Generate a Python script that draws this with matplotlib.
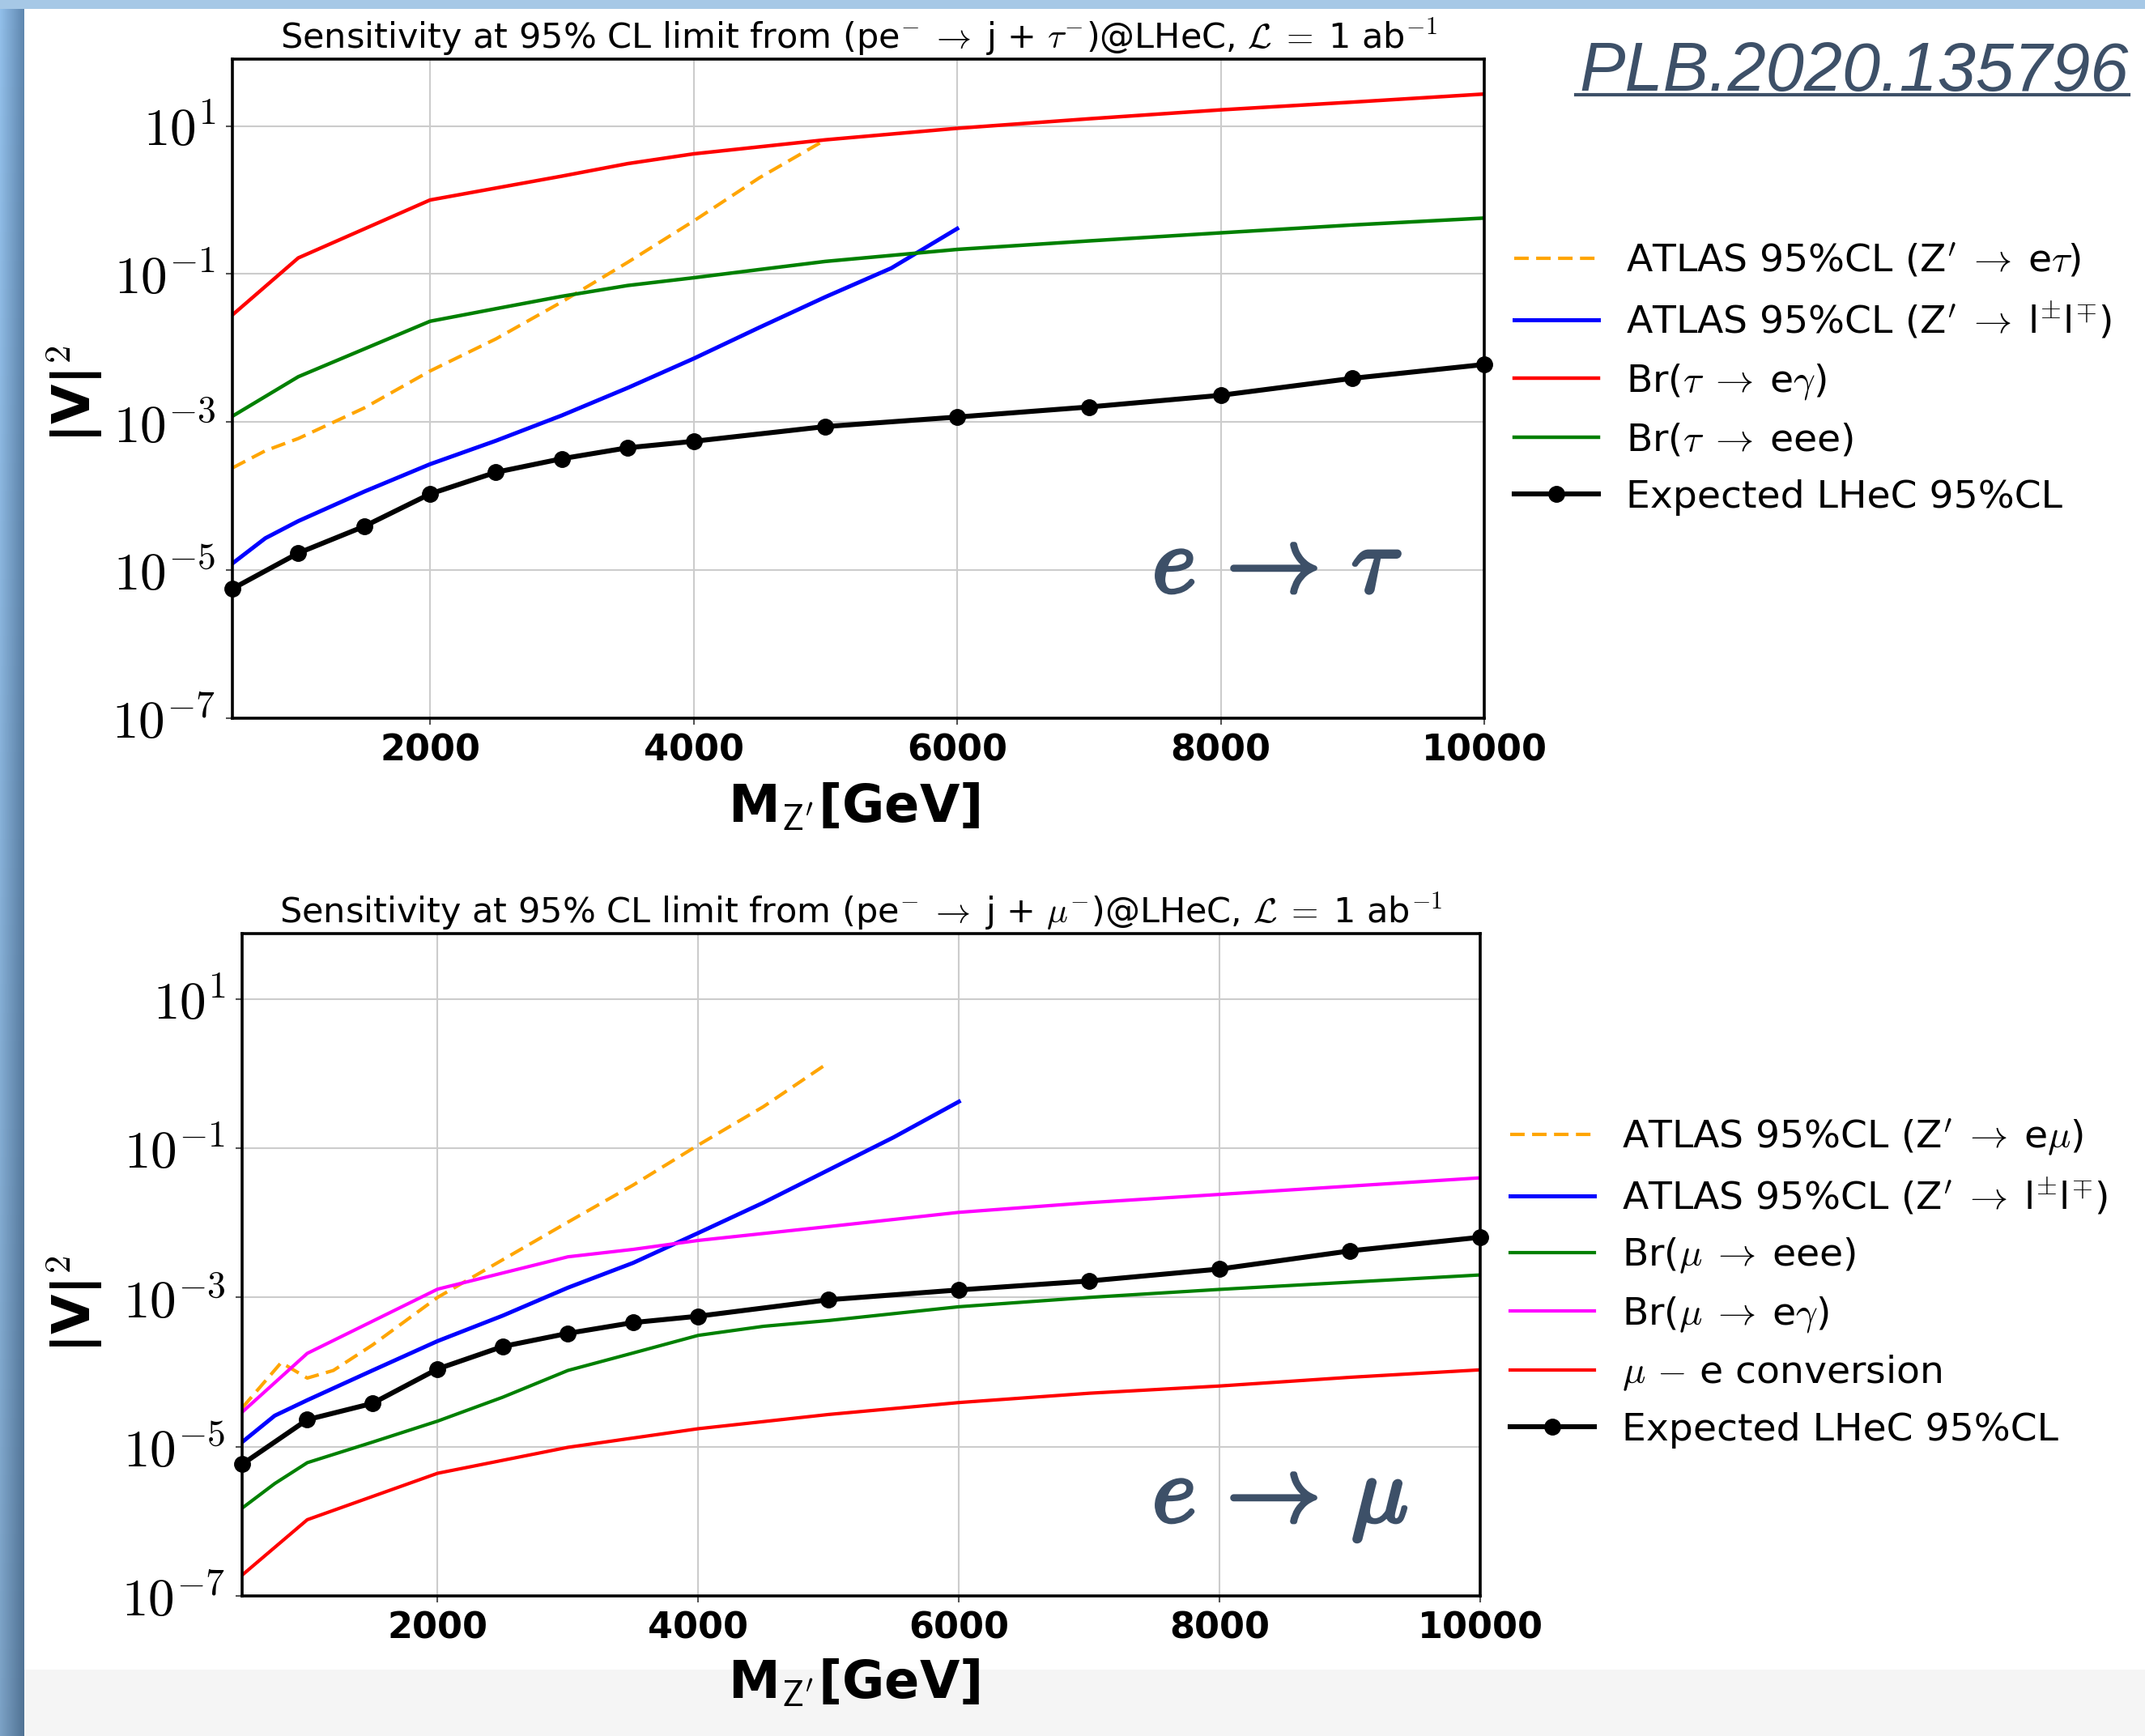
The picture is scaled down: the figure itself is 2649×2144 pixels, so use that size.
#!/usr/bin/env python3
"""
LFV Z' sensitivity at LHeC
--------------------------
Two log-scale panels (e->tau, e->mu) of |V|^2 versus M_Z',
drawn on a slide-like background and saved to out.png.
"""

import numpy as np
import matplotlib
matplotlib.use("Agg")
import matplotlib.pyplot as plt
from matplotlib.lines import Line2D
import matplotlib.patheffects as pe

plt.rcParams["mathtext.fontset"] = "cm"
plt.rcParams["font.family"] = ["DejaVu Sans"]

# -------------------------------
# Data: e -> tau panel
# -------------------------------
mass_lhec = [500, 1000, 1500, 2000, 2500, 3000, 3500, 4000,
             5000, 6000, 7000, 8000, 9000, 10000]
tau_lhec = [5.6e-6, 1.7e-5, 3.9e-5, 1.07e-4, 2.1e-4, 3.2e-4, 4.5e-4, 5.5e-4,
            8.7e-4, 1.17e-3, 1.6e-3, 2.3e-3, 3.9e-3, 6.0e-3]

tau_atlas_et_m = [500, 750, 1000, 1500, 2000, 2500, 3000, 3500, 4000, 4500, 5000]
tau_atlas_et = [2.4e-4, 4.1e-4, 6.0e-4, 1.55e-3, 4.9e-3, 1.33e-2, 4.2e-2,
                0.144, 0.52, 2.0, 6.5]

atlas_ll_m = [500, 750, 1000, 1500, 2000, 2500, 3000, 3500, 4000,
              4500, 5000, 5500, 6000]
tau_atlas_ll = [1.23e-5, 2.7e-5, 4.6e-5, 1.15e-4, 2.7e-4, 5.6e-4, 1.23e-3,
                2.9e-3, 7.2e-3, 0.019, 0.049, 0.12, 0.41]

tau_egam_m = [500, 1000, 2000, 2500, 3000, 3500, 4000, 5000,
              6000, 7000, 8000, 9000, 10000]
tau_egam = [0.028, 0.165, 1.0, 1.45, 2.1, 3.1, 4.2, 6.5,
            9.3, 12.5, 16.5, 21.0, 27.0]

tau_eee_m = [500, 1000, 2000, 2500, 3000, 3500, 4000, 4500,
             5000, 6000, 7000, 8000, 9000, 10000]
tau_eee = [1.2e-3, 4.1e-3, 0.023, 0.034, 0.050, 0.070, 0.089, 0.115,
           0.148, 0.215, 0.28, 0.36, 0.46, 0.57]

# -------------------------------
# Data: e -> mu panel
# -------------------------------
mu_lhec = [5.8e-6, 2.3e-5, 3.8e-5, 1.1e-4, 2.2e-4, 3.3e-4, 4.6e-4, 5.6e-4,
           9.3e-4, 1.26e-3, 1.66e-3, 2.4e-3, 4.2e-3, 6.4e-3]

mu_atlas_em_m = [500, 800, 1000, 1200, 1500, 2000, 2500, 3000, 3500, 4000, 4500, 5000]
mu_atlas_em = [3.3e-5, 1.34e-4, 8.3e-5, 1.05e-4, 2.3e-4, 1.0e-3, 3.2e-3,
               1.02e-2, 0.032, 0.11, 0.36, 1.4]

mu_atlas_ll = [1.15e-5, 2.6e-5, 4.2e-5, 1.05e-4, 2.6e-4, 5.7e-4, 1.35e-3,
               2.9e-3, 7.3e-3, 0.0186, 0.051, 0.14, 0.42]

mu_eee_m = [500, 750, 1000, 1500, 2000, 2500, 3000, 3500, 4000, 4500,
            5000, 6000, 7000, 8000, 9000, 10000]
mu_eee = [1.5e-6, 3.2e-6, 6.1e-6, 1.15e-5, 2.2e-5, 4.6e-5, 1.05e-4, 1.8e-4,
          3.1e-4, 4.1e-4, 4.9e-4, 7.5e-4, 1.0e-3, 1.28e-3, 1.6e-3, 2.0e-3]

mu_egam_m = [500, 1000, 2000, 3000, 3500, 4000, 5000, 6000, 7000, 8000, 9000, 10000]
mu_egam = [2.9e-5, 1.78e-4, 1.29e-3, 3.5e-3, 4.4e-3, 5.8e-3, 8.9e-3,
           0.0138, 0.0186, 0.024, 0.031, 0.040]

mu_conv_m = [500, 1000, 2000, 3000, 4000, 5000, 6000, 7000, 8000, 9000, 10000]
mu_conv = [1.9e-7, 1.05e-6, 4.4e-6, 9.8e-6, 1.74e-5, 2.7e-5, 3.9e-5,
           5.2e-5, 6.5e-5, 8.5e-5, 1.07e-4]

ytick_vals = [1e1, 1e-1, 1e-3, 1e-5, 1e-7]
ytick_labels = [r"$\mathbf{10^{1}}$", r"$\mathbf{10^{-1}}$", r"$\mathbf{10^{-3}}$",
                r"$\mathbf{10^{-5}}$", r"$\mathbf{10^{-7}}$"]
xtick_vals = [2000, 4000, 6000, 8000, 10000]

ARROW = r"\;\rightarrow\;"
title_tau = (r"Sensitivity at 95% CL limit from (pe$^{-}" + ARROW +
             r"$j + $\tau^{-}$)@LHeC, $\mathcal{L}\;=\;$1 ab$^{-1}$")
title_mu = (r"Sensitivity at 95% CL limit from (pe$^{-}" + ARROW +
            r"$j + $\mu^{-}$)@LHeC, $\mathcal{L}\;=\;$1 ab$^{-1}$")

TXT = "#3d5068"
W, H = 2649, 2144
DASH = (4.3, 2.2)


def fx(px):
    return px / W


def fy(py):
    return 1 - py / H


# -------------------------------
# Slide background
# -------------------------------
def draw_slide(fig):
    bg = fig.add_axes([0, 0, 1, 1], zorder=-10)
    bg.set_xlim(0, W)
    bg.set_ylim(H, 0)
    bg.axis("off")
    # bottom grey strip
    bg.fill_between([30, W], 2062, H, color="#f5f5f5", lw=0)
    # top blue strip
    bg.fill_between([0, W], 0, 11, color="#a6c8e6", lw=0)
    # left blue band with a soft gradient
    grad = np.zeros((60, 30, 3))
    left = np.array([0.55, 0.72, 0.88])
    right = np.array([0.36, 0.51, 0.66])
    for j in range(30):
        t = j / 29
        grad[:, j, :] = left * (1 - t) + right * t
    shade = np.linspace(1.04, 0.88, 60)[:, None, None]
    grad = np.clip(grad * shade, 0, 1)
    bg.imshow(grad, extent=[0, 30, H, 0], aspect="auto")


# -------------------------------
# Panels
# -------------------------------
def style_axes(ax, ytop):
    ax.set_yscale("log")
    ax.set_xlim(500, 10000)
    ax.set_ylim(1e-7, ytop)
    ax.set_yticks(ytick_vals, labels=ytick_labels)
    ax.yaxis.set_minor_locator(matplotlib.ticker.NullLocator())
    ax.set_xticks(xtick_vals, labels=[str(v) for v in xtick_vals])
    ax.grid(True, color="#cccccc", lw=1.5)
    for s in ax.spines.values():
        s.set_linewidth(2.6)
    ax.tick_params(axis="both", length=6, width=1.5, color="#555555")
    ax.tick_params(axis="y", labelsize=47, pad=9)
    ax.tick_params(axis="x", labelsize=32, pad=7)
    for lab in ax.get_xticklabels():
        lab.set_fontweight("bold")


def plot_tau(ax):
    h1, = ax.plot(tau_atlas_et_m, tau_atlas_et, "--", color="orange", lw=3,
                  dashes=DASH)
    h2, = ax.plot(atlas_ll_m, tau_atlas_ll, color="blue", lw=3.6)
    h3, = ax.plot(tau_egam_m, tau_egam, color="red", lw=3.2)
    h4, = ax.plot(tau_eee_m, tau_eee, color="green", lw=3.2)
    h5, = ax.plot(mass_lhec, tau_lhec, "-o", color="black", lw=4.4, ms=14,
                  clip_on=False, zorder=5)
    labels = [r"ATLAS 95%CL (Z$'" + ARROW + r"$e$\tau$)",
              r"ATLAS 95%CL (Z$'" + ARROW + r"$l$^{\pm}$l$^{\mp}$)",
              r"Br($\tau" + ARROW + r"$e$\gamma$)",
              r"Br($\tau" + ARROW + r"$eee)",
              "Expected LHeC 95%CL"]
    return [h1, h2, h3, h4, h5], labels


def plot_mu(ax):
    h1, = ax.plot(mu_atlas_em_m, mu_atlas_em, "--", color="orange", lw=3,
                  dashes=DASH)
    h2, = ax.plot(atlas_ll_m, mu_atlas_ll, color="blue", lw=3.6)
    h3, = ax.plot(mu_eee_m, mu_eee, color="green", lw=3.0)
    h4, = ax.plot(mu_egam_m, mu_egam, color="magenta", lw=3.0)
    h5, = ax.plot(mu_conv_m, mu_conv, color="red", lw=3.0)
    h6, = ax.plot(mass_lhec, mu_lhec, "-o", color="black", lw=4.4, ms=14,
                  clip_on=False, zorder=5)
    labels = [r"ATLAS 95%CL (Z$'" + ARROW + r"$e$\mu$)",
              r"ATLAS 95%CL (Z$'" + ARROW + r"$l$^{\pm}$l$^{\mp}$)",
              r"Br($\mu" + ARROW + r"$eee)",
              r"Br($\mu" + ARROW + r"$e$\gamma$)",
              r"$\mu$ $-$ e conversion",
              "Expected LHeC 95%CL"]
    return [h1, h2, h3, h4, h5, h6], labels


def add_legend(fig, handles, labels, x, y, spacing):
    fig.legend(handles, labels, loc="center left", bbox_to_anchor=(x, y),
               bbox_transform=fig.transFigure, frameon=False, fontsize=34,
               handlelength=2.2, handletextpad=0.72, labelspacing=spacing,
               borderpad=0, borderaxespad=0)


def main():
    fig = plt.figure(figsize=(W / 100, H / 100), dpi=100)
    draw_slide(fig)

    ax1 = fig.add_axes([fx(287), fy(887), fx(1833 - 287), (887 - 73) / H])
    ax2 = fig.add_axes([fx(299), fy(1971), fx(1828 - 299), (1971 - 1153) / H])
    style_axes(ax1, 80)
    style_axes(ax2, 75)

    hs, ls = plot_tau(ax1)
    add_legend(fig, hs, ls, fx(1870), fy(468), 0.54)
    hs, ls = plot_mu(ax2)
    add_legend(fig, hs, ls, fx(1865), fy(1584), 0.50)

    # titles and axis labels
    fig.text(fx(1060), fy(60), title_tau, ha="center", va="baseline", fontsize=31)
    fig.text(fx(1063), fy(1140), title_mu, ha="center", va="baseline", fontsize=31)
    for yb in (1015, 2097):
        fig.text(fx(1055), fy(yb), r"M$_{\mathsf{Z}^{\prime}}$[GeV]", ha="center",
                 va="baseline", fontsize=46, fontweight="bold")
    for yc in (486, 1610):
        fig.text(fx(92), fy(yc), r"|V|$^{2}$", rotation=90, ha="center",
                 va="center", fontsize=46, fontweight="bold")

    # channel annotations
    glow = [pe.withStroke(linewidth=3, foreground=TXT)]
    fig.text(fx(1423), fy(732), r"$e\,\rightarrow\,\tau$", ha="left",
             va="baseline", fontsize=84, color=TXT, path_effects=glow)
    fig.text(fx(1423), fy(1880), r"$e\,\rightarrow\,\mu$", ha="left",
             va="baseline", fontsize=84, color=TXT, path_effects=glow)

    # reference tag, underlined
    fig.text(fx(1950), fy(112), "PLB.2020.135796", ha="left", va="baseline",
             fontsize=61, style="italic", family="Liberation Sans", color=TXT)
    fig.add_artist(Line2D([fx(1946), fx(2629)], [fy(117), fy(117)],
                          transform=fig.transFigure, color=TXT, lw=3))

    fig.savefig("out.png", dpi=100)


if __name__ == "__main__":
    main()
